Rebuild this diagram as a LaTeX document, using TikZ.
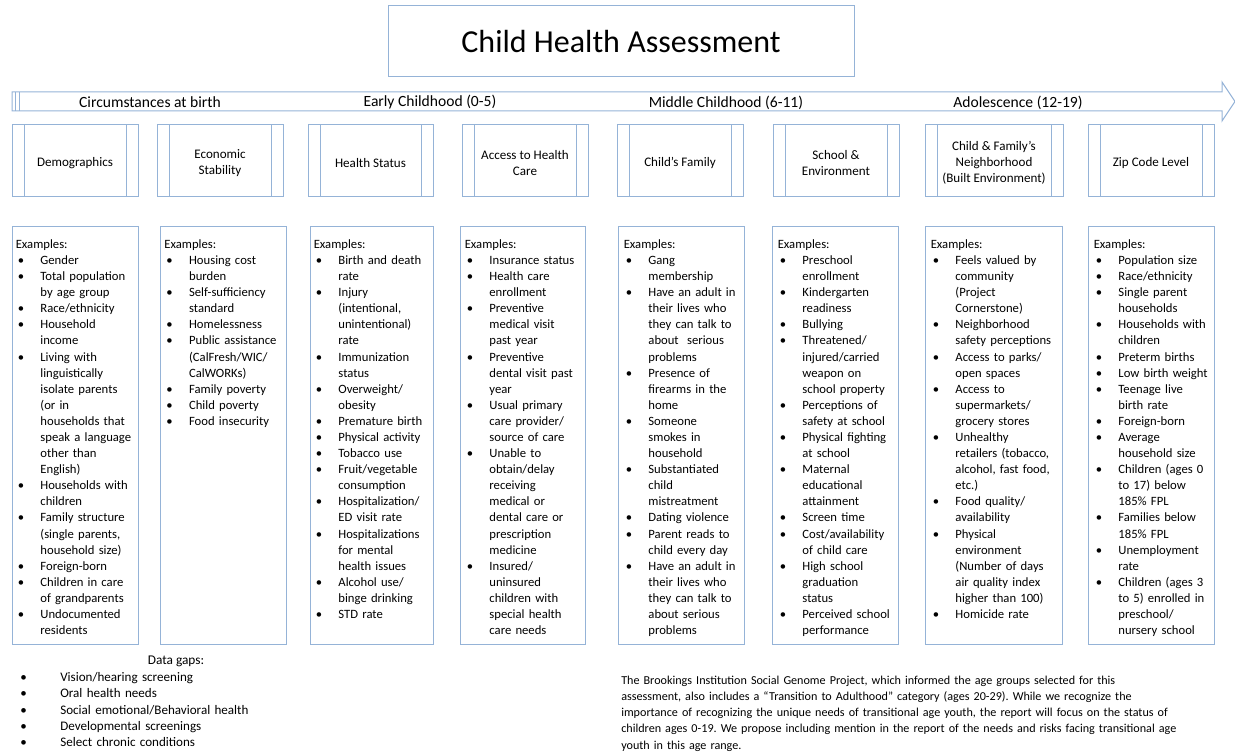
\documentclass[tikz,border=0pt]{standalone}
\usepackage{fontspec}
\setmainfont{Carlito}
\usetikzlibrary{positioning}

\definecolor{boxblue}{RGB}{149,179,215}

% bullet item with hanging indent
\newcommand{\li}[1]{\par\hangindent=18.5pt\hangafter=1\noindent\hbox to 18.5pt{\hspace{1.5pt}\textbullet\hfil}#1\par}
\newcommand{\gapli}[1]{\par\hangindent=31.5pt\hangafter=1\noindent\hbox to 31.5pt{\hspace{1.5pt}\textbullet\hfil}#1\par}

\tikzset{
  thinblue/.style={draw=boxblue, line width=0.75pt},
  headbox/.style={thinblue, minimum height=54pt, inner sep=0pt,
    path picture={
      \draw[boxblue, line width=0.75pt]
        ([xshift=9pt]path picture bounding box.north west) -- ([xshift=9pt]path picture bounding box.south west)
        ([xshift=-9pt]path picture bounding box.north east) -- ([xshift=-9pt]path picture bounding box.south east);
    }},
  headlabel/.style={align=center, inner sep=0pt, yshift=-1.5pt,
    font=\fontsize{9.8}{12}\selectfont},
  exbox/.style={thinblue, minimum height=312.75pt, inner sep=0pt},
  listtext/.style={anchor=north west, inner sep=0pt, align=left,
    font=\fontsize{9.5}{12.07}\selectfont},
  agelabel/.style={font=\fontsize{11.7}{14}\selectfont, inner sep=0pt},
}

\begin{document}
\frenchspacing
\begin{tikzpicture}[x=0.75pt, y=-0.75pt]
  \useasboundingbox (0,0) rectangle (1235,752);

  % title
  \node[thinblue, minimum width=349.5pt, minimum height=53.25pt, font=\fontsize{24}{28}\selectfont]
    (title) at (621,41.5) {Child Health Assessment};

  % age arrow
  \draw[thinblue] (12,92) -- (1222,92) -- (1222,82) -- (1235,101.5) -- (1222,121)
    -- (1222,111) -- (12,111) -- cycle;
  \draw[thinblue] (15,92) -- (15,111) (19,92) -- (19,111);
  \node[agelabel] (birth) at (150,102.5) {Circumstances at birth};
  \node[agelabel] (early) at (430,102.5) {Early Childhood (0-5)};
  \node[agelabel] (middle) at (726,102.5) {Middle Childhood (6-11)};
  \node[agelabel] (teen) at (1018,102.5) {Adolescence (12-19)};

  % domain headers
  \foreach \cx/\w/\nm/\txt in {
      75/126/demo/Demographics,
      220/126/econ/{Economic\\Stability},
      370.5/125/health/Health Status,
      525/126/access/{Access to Health\\Care},
      680/126/family/Child’s Family,
      836/126/school/{School \&\\Environment},
      994/138/neigh/{Child \& Family’s\\Neighborhood\\(Built Environment)},
      1151/126/zip/Zip Code Level}
    \node[headbox, minimum width=\w*0.75pt, label={[headlabel]center:{\txt}}] (\nm-head) at (\cx,161) {};

  % example boxes
  \foreach \cx/\w/\nm in {75/126/demo, 223/126/econ, 371.5/123/health, 522.5/125/access,
      681/126/family, 835/126/school, 993.5/137/neigh, 1151/126/zip}
    \node[exbox, minimum width=\w*0.75pt] (\nm-box) at (\cx,435.5) {};

  \node[listtext, text width=91pt] (demo-list) at ([shift={(3pt,-9.6pt)}]demo-box.north west) {%
    Examples:
    \li{Gender}
    \li{Total population\newline by age group}
    \li{Race/ethnicity}
    \li{Household\newline income}
    \li{Living with\newline linguistically\newline isolate parents\newline (or in\newline households that\newline speak a language\newline other than\newline English)}
    \li{Households with\newline children}
    \li{Family structure\newline (single parents,\newline household size)}
    \li{Foreign-born}
    \li{Children in care\newline of grandparents}
    \li{Undocumented\newline residents}};

  \node[listtext, text width=91pt] (econ-list) at ([shift={(3.5pt,-9.6pt)}]econ-box.north west) {%
    Examples:
    \li{Housing cost\newline burden}
    \li{Self-sufficiency\newline standard}
    \li{Homelessness}
    \li{Public assistance\newline (CalFresh/WIC/\newline CalWORKs)}
    \li{Family poverty}
    \li{Child poverty}
    \li{Food insecurity}};

  \node[listtext, text width=89pt] (health-list) at ([shift={(3pt,-9.6pt)}]health-box.north west) {%
    Examples:
    \li{Birth and death\newline rate}
    \li{Injury\newline (intentional,\newline unintentional)\newline rate}
    \li{Immunization\newline status}
    \li{Overweight/\newline obesity}
    \li{Premature birth}
    \li{Physical activity}
    \li{Tobacco use}
    \li{Fruit/vegetable\newline consumption}
    \li{Hospitalization/\newline ED visit rate}
    \li{Hospitalizations\newline for mental\newline health issues}
    \li{Alcohol use/\newline binge drinking}
    \li{STD rate}};

  \node[listtext, text width=90pt] (access-list) at ([shift={(3.75pt,-9.6pt)}]access-box.north west) {%
    Examples:
    \li{Insurance status}
    \li{Health care\newline enrollment}
    \li{Preventive\newline medical visit\newline past year}
    \li{Preventive\newline dental visit past\newline year}
    \li{Usual primary\newline care provider/\newline source of care}
    \li{Unable to\newline obtain/delay\newline receiving\newline medical or\newline dental care or\newline prescription\newline medicine}
    \li{Insured/\newline uninsured\newline children with\newline special health\newline care needs}};

  \node[listtext, text width=90pt] (family-list) at ([shift={(4.5pt,-9.6pt)}]family-box.north west) {%
    Examples:
    \li{Gang\newline membership}
    \li{Have an adult in\newline their lives who\newline they can talk to\newline about\ \ serious\newline problems}
    \li{Presence of\newline firearms in the\newline home}
    \li{Someone\newline smokes in\newline household}
    \li{Substantiated\newline child\newline mistreatment}
    \li{Dating violence}
    \li{Parent reads to\newline child every day}
    \li{Have an adult in\newline their lives who\newline they can talk to\newline about serious\newline problems}};

  \node[listtext, text width=90pt] (school-list) at ([shift={(4.5pt,-9.6pt)}]school-box.north west) {%
    Examples:
    \li{Preschool\newline enrollment}
    \li{Kindergarten\newline readiness}
    \li{Bullying}
    \li{Threatened/\newline injured/carried\newline weapon on\newline school property}
    \li{Perceptions of\newline safety at school}
    \li{Physical fighting\newline at school}
    \li{Maternal\newline educational\newline attainment}
    \li{Screen time}
    \li{Cost/availability\newline of child care}
    \li{High school\newline graduation\newline status}
    \li{Perceived school\newline performance}};

  \node[listtext, text width=99pt] (neigh-list) at ([shift={(4.5pt,-9.6pt)}]neigh-box.north west) {%
    Examples:
    \li{Feels valued by\newline community\newline (Project\newline Cornerstone)}
    \li{Neighborhood\newline safety perceptions}
    \li{Access to parks/\newline open spaces}
    \li{Access to\newline supermarkets/\newline grocery stores}
    \li{Unhealthy\newline retailers (tobacco,\newline alcohol, fast food,\newline etc.)}
    \li{Food quality/\newline availability}
    \li{Physical\newline environment\newline (Number of days\newline air quality index\newline higher than 100)}
    \li{Homicide rate}};

  \node[listtext, text width=90pt] (zip-list) at ([shift={(4.5pt,-9.6pt)}]zip-box.north west) {%
    Examples:
    \li{Population size}
    \li{Race/ethnicity}
    \li{Single parent\newline households}
    \li{Households with\newline children}
    \li{Preterm births}
    \li{Low birth weight}
    \li{Teenage live\newline birth rate}
    \li{Foreign-born}
    \li{Average\newline household size}
    \li{Children (ages 0\newline to 17) below\newline 185\% FPL}
    \li{Families below\newline 185\% FPL}
    \li{Unemployment\newline rate}
    \li{Children (ages 3\newline to 5) enrolled in\newline preschool/\newline nursery school}};

  % data gaps
  \node[font=\fontsize{10}{12}\selectfont, inner sep=0pt] (gap-title) at (176,661) {Data gaps:};
  \node[listtext, text width=200pt, font=\fontsize{9.8}{12.2}\selectfont] (gap-list) at (18,665) {%
    \gapli{Vision/hearing screening}
    \gapli{Oral health needs}
    \gapli{Social emotional/Behavioral health}
    \gapli{Developmental screenings}
    \gapli{Select chronic conditions}};

  % note on age groups
  \node[listtext, text width=455pt, font=\fontsize{9.1}{12.2}\selectfont] (note) at (621,675.5) {%
    The Brookings Institution Social Genome Project, which informed the age groups selected for this\newline
    assessment, also includes a “Transition to Adulthood” category (ages 20-29). While we recognize the\newline
    importance of recognizing the unique needs of transitional age youth, the report will focus on the status of\newline
    children ages 0-19. We propose including mention in the report of the needs and risks facing transitional age\newline
    youth in this age range.};
\end{tikzpicture}
\end{document}
